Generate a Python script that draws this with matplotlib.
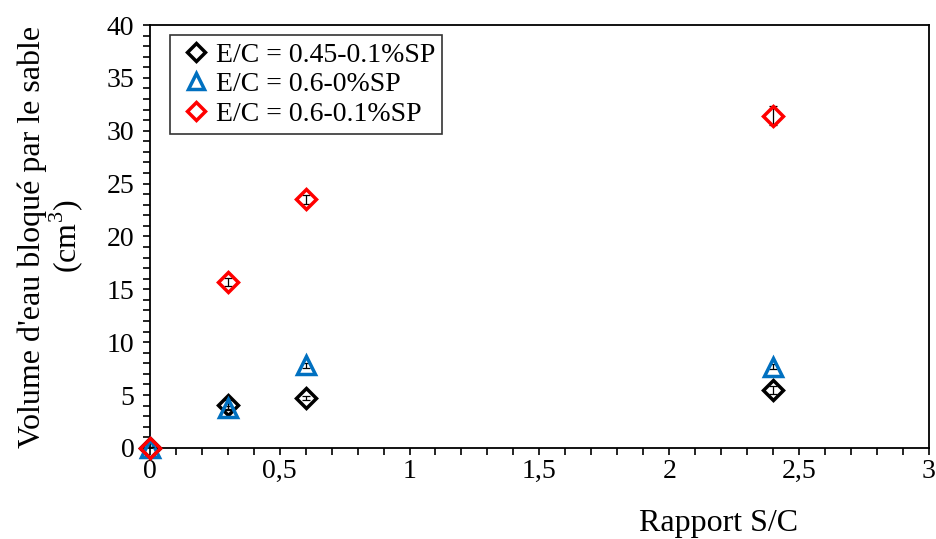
import matplotlib
matplotlib.use('Agg')
import matplotlib.pyplot as plt
from matplotlib.ticker import MultipleLocator, FuncFormatter

plt.rcParams['font.family'] = ['Liberation Serif', 'DejaVu Serif']
plt.rcParams['mathtext.fontset'] = 'custom'
plt.rcParams['mathtext.rm'] = 'Liberation Serif'

# données
rapport_sc = [0, 0.3, 0.6, 2.4]
vol_045_01 = [0, 4.1, 4.7, 5.5]
err_045_01 = [0.1, 0.4, 0.2, 0.4]
vol_06_0 = [0, 3.8, 7.8, 7.7]
err_06_0 = [0.1, 0.2, 0.2, 0.2]
vol_06_01 = [0, 15.7, 23.5, 31.4]
err_06_01 = [0.1, 0.4, 0.4, 0.9]
labels = ['E/C = 0.45-0.1%SP', 'E/C = 0.6-0%SP', 'E/C = 0.6-0.1%SP']

fig = plt.figure(figsize=(9.36, 5.39), dpi=100)
ax = fig.add_axes([0.160, 0.169, 0.8325, 0.7846])

series = [
    (vol_045_01, err_045_01, 'D', 'black', 10.5),
    (vol_06_0, err_06_0, '^', '#0070C0', 13),
    (vol_06_01, err_06_01, 'D', '#FF0000', 10.5),
]
for i, (v, e, m, c, ms) in enumerate(series):
    ax.errorbar(rapport_sc, v, yerr=e, fmt='none', ecolor='black',
                elinewidth=0.9, capsize=3, capthick=0.9, zorder=2 + i)
    ax.plot(rapport_sc, v, linestyle='none', marker=m, markersize=ms,
            markerfacecolor='none', markeredgecolor=c, markeredgewidth=2.5,
            label=labels[i], zorder=3 + i, clip_on=False)

ax.set_xlim(0, 3)
ax.set_ylim(0, 40)
ax.xaxis.set_major_locator(MultipleLocator(0.5))
ax.xaxis.set_minor_locator(MultipleLocator(0.1))
ax.yaxis.set_major_locator(MultipleLocator(5))
ax.yaxis.set_minor_locator(MultipleLocator(1))
ax.xaxis.set_major_formatter(FuncFormatter(
    lambda v, p: ('%g' % v).replace('.', ',')))

ax.tick_params(which='both', direction='out', labelsize=20, width=1.2,
               length=5, color='black')
ax.tick_params(axis='x', pad=3)
ax.tick_params(axis='y', pad=6)
for s in ax.spines.values():
    s.set_linewidth(1.3)

ax.set_xlabel('Rapport S/C', fontsize=23)
ax.xaxis.set_label_coords(0.73, -0.145)
ax.set_ylabel("Volume d'eau bloqué par le sable\n(cm$^3$)", fontsize=23,
              linespacing=1.0)
ax.yaxis.set_label_coords(-0.083, 0.5)

leg = ax.legend(loc='upper left', bbox_to_anchor=(0.026, 0.976), fontsize=20,
                frameon=True, fancybox=False, borderaxespad=0,
                handletextpad=0.0, handlelength=1.4, labelspacing=0.15,
                borderpad=0.25, numpoints=1)
leg.get_frame().set_edgecolor('black')
leg.get_frame().set_linewidth(1.2)
for h in leg.legend_handles:
    h.set_markersize(9 if h.get_marker() == 'D' else 12)

fig.savefig('out.png', dpi=100)
